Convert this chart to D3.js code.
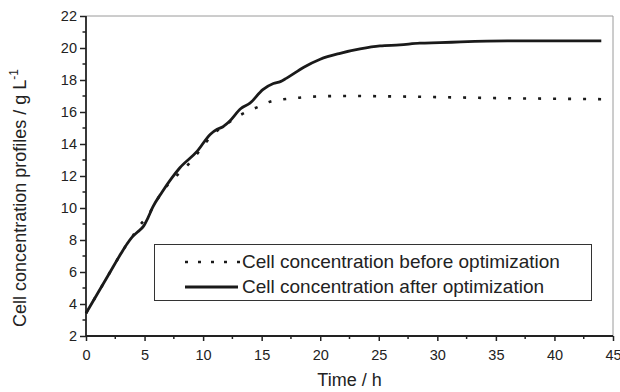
<!DOCTYPE html>
<html>
<head>
<meta charset="utf-8">
<script src="https://cdn.jsdelivr.net/npm/d3@7/dist/d3.min.js"></script>
<style>
  html, body { margin: 0; padding: 0; background: #fff; }
  svg { display: block; font-family: "Liberation Sans", Arial, sans-serif; }
</style>
</head>
<body>
<svg id="chart" width="620" height="392"></svg>
<script>
// ---- data ----
const timeAfter = [0, 1, 2, 3, 3.5, 3.9, 4.4, 4.9, 5.3, 5.7, 6.5, 7.3, 8, 9.5, 10.6, 11.2, 11.7, 12.3, 13.2, 14, 15.1, 16, 16.6, 17.1, 18.6, 20, 21.7, 23.4, 25.1, 26.8, 28.5, 30.2, 32, 36, 40, 44];
const valuesAfter = [3.42, 4.67, 5.92, 7.17, 7.75, 8.15, 8.5, 8.85, 9.4, 10.05, 11.0, 11.85, 12.5, 13.55, 14.6, 14.92, 15.08, 15.45, 16.2, 16.55, 17.4, 17.78, 17.9, 18.1, 18.8, 19.3, 19.67, 19.94, 20.13, 20.19, 20.3, 20.33, 20.38, 20.44, 20.44, 20.44];
const timeBefore = [0, 1, 2, 3, 3.5, 3.9, 4.4, 4.8, 5.3, 5.7, 6.5, 7.3, 8, 8.7, 9.7, 10.7, 11.5, 12.3, 13.3, 14.6, 15.9, 16.8, 18, 19.4, 22, 25.7, 30.9, 35.9, 40, 44];
const valuesBefore = [3.42, 4.67, 5.92, 7.17, 7.75, 8.15, 8.7, 9.1, 9.5, 10.05, 11.0, 11.7, 12.2, 12.69, 13.58, 14.5, 15.0, 15.4, 15.86, 16.29, 16.69, 16.79, 16.88, 16.96, 17.0, 16.98, 16.92, 16.86, 16.83, 16.8];
const xTicks = [0, 5, 10, 15, 20, 25, 30, 35, 40, 45];
const yTicks = [2, 4, 6, 8, 10, 12, 14, 16, 18, 20, 22];
const seriesNames = ["Cell concentration before optimization", "Cell concentration after optimization"];

// ---- layout ----
const svg = d3.select("#chart");
const L = 86, R = 613, T = 16, B = 336;
const x = d3.scaleLinear().domain([0, 45]).range([L, R]);
const y = d3.scaleLinear().domain([2, 22]).range([B, T]);

// frame (top/right gray)
svg.append("line").attr("x1", L).attr("x2", R).attr("y1", T).attr("y2", T)
  .attr("stroke", "#9a9a9a").attr("stroke-width", 1);
svg.append("line").attr("x1", R).attr("x2", R).attr("y1", T).attr("y2", B)
  .attr("stroke", "#9a9a9a").attr("stroke-width", 1);

// minor ticks
const xMinor = d3.range(2.5, 45, 5);
const yMinor = d3.range(3, 22, 2);

const gx = svg.append("g").attr("transform", `translate(0,${B})`)
  .call(d3.axisBottom(x).tickValues(xTicks).tickSize(5).tickPadding(4).tickFormat(d3.format("d")));
gx.append("g").selectAll("line").data(xMinor).join("line")
  .attr("x1", d => x(d)).attr("x2", d => x(d)).attr("y1", 0).attr("y2", 3)
  .attr("stroke", "#222").attr("stroke-width", 1.5);

const gy = svg.append("g").attr("transform", `translate(${L},0)`)
  .call(d3.axisLeft(y).tickValues(yTicks).tickSize(6).tickPadding(3).tickFormat(d3.format("d")));
gy.append("g").selectAll("line").data(yMinor).join("line")
  .attr("y1", d => y(d)).attr("y2", d => y(d)).attr("x1", 0).attr("x2", -3.5)
  .attr("stroke", "#222").attr("stroke-width", 1.5);

[gx, gy].forEach(g => {
  g.select(".domain").attr("stroke", "#222").attr("stroke-width", 1.8);
  g.selectAll(".tick line").attr("stroke", "#222").attr("stroke-width", 1.5);
  g.selectAll(".tick text").attr("fill", "#222").attr("font-size", 14.5)
    .attr("font-family", "'Liberation Sans', Arial, sans-serif");
});
gx.selectAll(".tick text").attr("dy", "1.0em");
gx.select(".domain").attr("d", `M${L},0H${R}`);
gy.select(".domain").attr("d", `M0,${B}V${T}`);

// axis titles
svg.append("text").attr("x", (L + R) / 2).attr("y", 386).attr("text-anchor", "middle")
  .attr("font-size", 18).attr("fill", "#222").text("Time / h");

const yl = svg.append("text").attr("transform", "translate(26,198) rotate(-90)")
  .attr("text-anchor", "middle").attr("font-size", 18).attr("fill", "#222");
yl.append("tspan").text("Cell concentration profiles / g L");
yl.append("tspan").attr("font-size", 12).attr("dy", -8).text("-1");

// lines
const lineGen = d3.line().x(d => x(d[0])).y(d => y(d[1])).curve(d3.curveMonotoneX);
const before = timeBefore.map((t, i) => [t, valuesBefore[i]]);
const after = timeAfter.map((t, i) => [t, valuesAfter[i]]);

svg.append("path").attr("d", lineGen(before)).attr("fill", "none")
  .attr("stroke", "#1a1a1a").attr("stroke-width", 2.6)
  .attr("stroke-dasharray", "3,12").attr("stroke-linecap", "butt");
svg.append("path").attr("d", lineGen(after)).attr("fill", "none")
  .attr("stroke", "#1a1a1a").attr("stroke-width", 2.8);

// legend
const lg = svg.append("g");
lg.append("rect").attr("x", 154.5).attr("y", 244.5).attr("width", 437).attr("height", 56)
  .attr("fill", "#fff").attr("stroke", "#333").attr("stroke-width", 1);
lg.append("line").attr("x1", 185).attr("x2", 240).attr("y1", 262).attr("y2", 262)
  .attr("stroke", "#1a1a1a").attr("stroke-width", 2.6).attr("stroke-dasharray", "3,10")
  .attr("stroke-dashoffset", 0);
lg.append("line").attr("x1", 185).attr("x2", 238).attr("y1", 287).attr("y2", 287)
  .attr("stroke", "#1a1a1a").attr("stroke-width", 2.8);
lg.append("text").attr("x", 242).attr("y", 268).attr("font-size", 19).attr("fill", "#222")
  .text(seriesNames[0]);
lg.append("text").attr("x", 242).attr("y", 293).attr("font-size", 19).attr("fill", "#222")
  .text(seriesNames[1]);
</script>
</body>
</html>
